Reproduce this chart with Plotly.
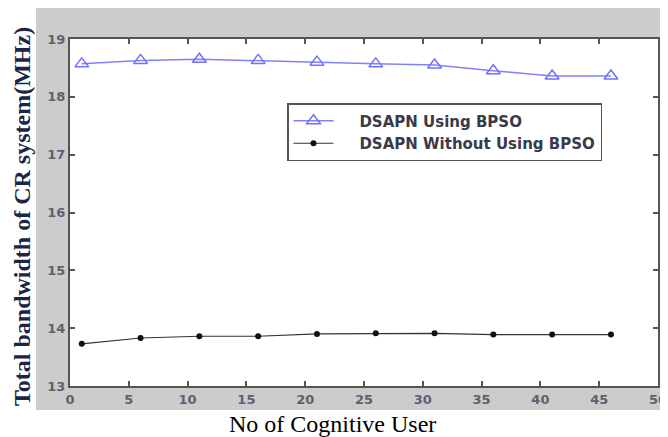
import plotly.graph_objects as go

users = [1, 6, 11, 16, 21, 26, 31, 36, 41, 46]
bw_bpso = [18.57, 18.63, 18.65, 18.63, 18.60, 18.57, 18.55, 18.45, 18.36, 18.36]
bw_no_bpso = [13.73, 13.83, 13.86, 13.86, 13.90, 13.91, 13.91, 13.89, 13.89, 13.89]
x_ticks = [0, 5, 10, 15, 20, 25, 30, 35, 40, 45, 50]
y_ticks = [13, 14, 15, 16, 17, 18, 19]

NB = "\u00a0" * 4

fig = go.Figure()
fig.add_trace(go.Scatter(
    x=users, y=bw_bpso, mode="lines+markers", name=NB + "DSAPN Using BPSO",
    line=dict(color="#8080ff", width=1.5),
    marker=dict(symbol="triangle-up-open", size=12, color="#7070ff", line=dict(width=1.5)),
))
fig.add_trace(go.Scatter(
    x=users, y=bw_no_bpso, mode="lines+markers", name=NB + "DSAPN Without Using BPSO",
    line=dict(color="#333333", width=1.2),
    marker=dict(symbol="circle", size=6, color="#111111"),
))

axis_common = dict(
    showgrid=False, zeroline=False, ticks="inside", ticklen=5, tickwidth=1.5,
    tickcolor="#555555", showline=True, linecolor="#555555", linewidth=2, mirror="ticks",
    automargin=False,
    tickfont=dict(family="DejaVu Sans", size=13, color="#5f5f72", weight="bold"),
)
fig.update_xaxes(range=[0, 50], tickvals=x_ticks, **axis_common)
fig.update_yaxes(range=[13, 19], tickvals=y_ticks, **axis_common)

fig.add_shape(type="rect", xref="paper", yref="paper",
              x0=-0.0578, x1=1.03, y0=-0.069, y1=1.1,
              fillcolor="#cccccc", line=dict(width=0), layer="below")
fig.add_shape(type="rect", xref="paper", yref="paper",
              x0=0, x1=1, y0=0, y1=1,
              fillcolor="white", line=dict(width=0), layer="below")

fig.add_annotation(text="No of Cognitive User", xref="paper", yref="paper",
                   x=(332 - 70) / 588, y=(386 - 424) / 347, showarrow=False,
                   xanchor="center", yanchor="middle",
                   font=dict(family="Liberation Serif, Times New Roman", size=24, color="#000000"))
fig.add_annotation(text="<b>Total bandwidth of CR system(MHz)</b>", xref="paper", yref="paper",
                   x=(22 - 70) / 588, y=(386 - 217) / 347, showarrow=False, textangle=-90,
                   xanchor="center", yanchor="middle",
                   font=dict(family="Liberation Serif, Times New Roman", size=24, color="#1c2545"))

# page has an 8px body margin; figure sized to fit the 668x437 window
fig.update_layout(
    width=660, height=429,
    margin=dict(l=62, r=10, t=31, b=51),
    paper_bgcolor="white", plot_bgcolor="white",
    showlegend=True,
    legend=dict(x=(287 - 70) / 588, y=(386 - 103) / 347, xanchor="left", yanchor="top",
                bgcolor="white", bordercolor="#555555", borderwidth=1.5,
                font=dict(family="DejaVu Sans", size=15, color="#3a3a48", weight="bold"),
                tracegroupgap=0, itemwidth=40),
)

fig.write_html("out.html")
